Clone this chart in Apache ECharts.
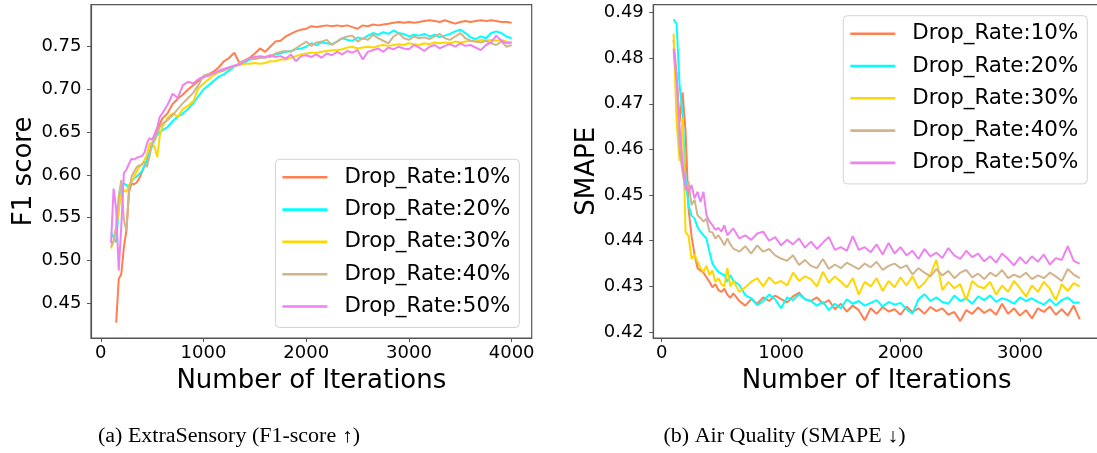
<!DOCTYPE html>
<html>
<head>
<meta charset="utf-8">
<script src="https://cdn.jsdelivr.net/npm/echarts@6/dist/echarts.min.js"></script>
<style>
html,body{margin:0;padding:0;background:#fff;}
#chart{width:1097px;height:453px;}
</style>
</head>
<body>
<div id="chart"></div>
<script>
// ---------- shared ----------
const seriesNames = ['Drop_Rate:10%','Drop_Rate:20%','Drop_Rate:30%','Drop_Rate:40%','Drop_Rate:50%'];
const seriesColors = ['#FF7F50','#00FFFF','#FFD700','#D2B48C','#EE82EE'];
const xAxisTitle = 'Number of Iterations';

// ---------- (a) ExtraSensory ----------
const captionA = '(a) ExtraSensory (F1-score \u2191)';
const yTitleA = 'F1 score';
const xTicksA = [0,1000,2000,3000,4000];
const yTicksA = [0.45,0.50,0.55,0.60,0.65,0.70,0.75];
const itersA = [100,125,150,175,200,225,250,275,300,325,350,375,400,425,450,475,500,525,550,575,600,
 650,700,750,800,850,900,950,1000,1050,1100,1150,1200,1250,1300,1350,1400,1450,1500,1550,1600,1650,1700,1750,1800,1850,1900,1950,2000,
 2050,2100,2150,2200,2250,2300,2350,2400,2450,2500,2550,2600,2650,2700,2750,2800,2850,2900,2950,3000,
 3050,3100,3150,3200,3250,3300,3350,3400,3450,3500,3550,3600,3650,3700,3750,3800,3850,3900,3950,4000];
const f1Drop10 = [null,null,0.427,0.478,0.484,0.515,0.535,0.580,0.590,0.589,0.591,0.596,0.603,0.610,0.617,0.626,0.636,0.643,0.652,0.660,0.666,
 0.672,0.683,0.689,0.694,0.700,0.705,0.710,0.714,0.718,0.721,0.726,0.733,0.737,0.743,0.731,0.734,0.737,0.742,0.748,0.744,0.750,0.756,0.757,0.762,0.765,0.768,0.770,0.771,
 0.774,0.773,0.774,0.775,0.774,0.775,0.774,0.775,0.773,0.771,0.775,0.774,0.776,0.775,0.776,0.777,0.778,0.779,0.778,0.779,
 0.778,0.779,0.780,0.781,0.780,0.779,0.781,0.779,0.777,0.779,0.780,0.779,0.780,0.781,0.780,0.781,0.780,0.779,0.779,0.778];
const f1Drop20 = [0.533,0.527,0.521,0.560,0.586,0.590,0.588,0.584,0.592,0.596,0.598,0.601,0.604,0.611,0.617,0.626,0.634,0.641,0.647,0.650,0.652,
 0.656,0.663,0.668,0.672,0.677,0.684,0.692,0.700,0.705,0.710,0.715,0.718,0.722,0.727,0.729,0.731,0.735,0.736,0.737,0.738,0.738,0.741,0.742,0.744,0.745,0.747,0.748,0.750,
 0.754,0.752,0.755,0.754,0.753,0.756,0.760,0.758,0.757,0.761,0.759,0.763,0.766,0.764,0.767,0.765,0.769,0.766,0.765,0.762,
 0.764,0.763,0.765,0.762,0.764,0.761,0.763,0.765,0.768,0.770,0.766,0.761,0.759,0.762,0.760,0.766,0.768,0.766,0.762,0.760];
const f1Drop30 = [0.514,0.522,0.535,0.560,0.578,0.582,0.580,0.588,0.592,0.598,0.604,0.609,0.612,0.617,0.624,0.636,0.638,0.632,0.621,0.646,0.656,
 0.667,0.672,0.668,0.677,0.681,0.686,0.701,0.707,0.712,0.717,0.720,0.723,0.725,0.727,0.729,0.730,0.730,0.731,0.730,0.731,0.733,0.733,0.735,0.735,0.737,0.739,0.741,0.742,
 0.743,0.743,0.744,0.745,0.746,0.746,0.747,0.749,0.750,0.748,0.749,0.750,0.749,0.751,0.752,0.751,0.752,0.753,0.752,0.754,
 0.753,0.752,0.754,0.753,0.755,0.754,0.755,0.754,0.756,0.755,0.756,0.757,0.756,0.758,0.757,0.758,0.757,0.758,0.756,0.755];
const f1Drop40 = [0.516,0.523,0.540,0.575,0.594,0.547,0.535,0.582,0.598,0.604,0.609,0.611,0.612,0.615,0.609,0.622,0.637,0.641,0.649,0.656,0.660,
 0.664,0.670,0.677,0.684,0.690,0.696,0.705,0.716,0.718,0.719,0.721,0.722,0.725,0.727,0.731,0.734,0.736,0.736,0.737,0.737,0.739,0.742,0.744,0.745,0.744,0.748,0.752,0.756,
 0.751,0.755,0.756,0.758,0.752,0.756,0.760,0.762,0.763,0.756,0.760,0.758,0.764,0.760,0.757,0.754,0.762,0.766,0.760,0.758,
 0.762,0.760,0.761,0.759,0.762,0.765,0.760,0.758,0.762,0.766,0.760,0.757,0.756,0.755,0.757,0.754,0.752,0.756,0.750,0.752];
const f1Drop50 = [0.520,0.584,0.560,0.488,0.540,0.602,0.606,0.613,0.619,0.618,0.620,0.621,0.622,0.626,0.637,0.643,0.641,0.648,0.656,0.668,0.672,
 0.682,0.695,0.690,0.705,0.709,0.707,0.712,0.715,0.716,0.719,0.722,0.724,0.726,0.728,0.729,0.733,0.737,0.738,0.739,0.738,0.740,0.738,0.739,0.736,0.741,0.733,0.739,0.740,
 0.738,0.741,0.737,0.742,0.740,0.744,0.741,0.745,0.743,0.746,0.735,0.744,0.746,0.748,0.744,0.749,0.747,0.750,0.748,0.747,
 0.752,0.749,0.745,0.750,0.752,0.748,0.751,0.753,0.750,0.754,0.751,0.752,0.749,0.746,0.752,0.755,0.763,0.757,0.754,0.755];

// ---------- (b) Air Quality ----------
const captionB = '(b) Air Quality (SMAPE \u2193)';
const yTitleB = 'SMAPE';
const xTicksB = [0,1000,2000,3000];
const yTicksB = [0.42,0.43,0.44,0.45,0.46,0.47,0.48,0.49];
const itersB = [100,125,150,175,200,225,250,275,300,325,350,375,400,425,450,475,500,525,550,575,600,
 650,700,750,800,850,900,950,1000,1050,1100,1150,1200,1250,1300,1350,1400,1450,1500,1550,1600,1650,1700,1750,1800,1850,1900,1950,2000,
 2050,2100,2150,2200,2250,2300,2350,2400,2450,2500,2550,2600,2650,2700,2750,2800,2850,2900,2950,3000,
 3050,3100,3150,3200,3250,3300,3350,3400,3450,3500];
const smapeDrop10 = [0.4840,0.4760,0.4660,0.4725,0.4640,0.4470,0.4410,0.4370,0.4340,0.4335,0.4330,0.4320,0.4310,0.4298,0.4305,0.4292,0.4288,0.4295,0.4282,0.4275,0.4285,
 0.4268,0.4258,0.4272,0.4262,0.4276,0.4268,0.4280,0.4272,0.4265,0.4278,0.4286,0.4272,0.4268,0.4276,0.4262,0.4270,0.4250,0.4262,0.4245,0.4258,0.4248,0.4226,0.4252,0.4240,0.4255,0.4245,0.4250,0.4238,
 0.4256,0.4244,0.4252,0.4240,0.4255,0.4246,0.4252,0.4238,0.4244,0.4224,0.4248,0.4240,0.4254,0.4242,0.4250,0.4238,0.4262,0.4240,0.4252,0.4236,
 0.4248,0.4230,0.4252,0.4244,0.4256,0.4238,0.4250,0.4236,0.4258,0.4228];
const smapeDrop20 = [0.4885,0.4875,0.4740,0.4680,0.4535,0.4478,0.4455,0.4449,0.4430,0.4420,0.4412,0.4405,0.4376,0.4350,0.4340,0.4332,0.4328,0.4325,0.4310,0.4325,0.4312,
 0.4303,0.4281,0.4274,0.4259,0.4268,0.4282,0.4272,0.4252,0.4276,0.4270,0.4283,0.4272,0.4268,0.4258,0.4266,0.4248,0.4262,0.4252,0.4272,0.4262,0.4268,0.4258,0.4264,0.4270,0.4256,0.4266,0.4260,0.4264,
 0.4250,0.4240,0.4272,0.4283,0.4268,0.4276,0.4266,0.4262,0.4280,0.4268,0.4274,0.4262,0.4278,0.4270,0.4280,0.4266,0.4274,0.4270,0.4262,0.4276,
 0.4268,0.4274,0.4266,0.4260,0.4272,0.4258,0.4270,0.4276,0.4264,0.4265];
const smapeDrop30 = [0.4854,0.4660,0.4575,0.4668,0.4420,0.4410,0.4360,0.4370,0.4354,0.4340,0.4332,0.4345,0.4325,0.4335,0.4310,0.4318,0.4305,0.4300,0.4340,0.4300,0.4312,
 0.4288,0.4298,0.4310,0.4318,0.4300,0.4320,0.4306,0.4312,0.4302,0.4330,0.4312,0.4322,0.4316,0.4300,0.4332,0.4308,0.4322,0.4310,0.4298,0.4318,0.4282,0.4310,0.4300,0.4318,0.4290,0.4312,0.4298,0.4320,
 0.4302,0.4322,0.4296,0.4308,0.4326,0.4358,0.4292,0.4310,0.4296,0.4305,0.4270,0.4312,0.4300,0.4296,0.4310,0.4282,0.4302,0.4288,0.4312,0.4296,
 0.4278,0.4302,0.4288,0.4310,0.4295,0.4270,0.4305,0.4290,0.4307,0.4300];
const smapeDrop40 = [0.4814,0.4750,0.4600,0.4550,0.4510,0.4530,0.4478,0.4490,0.4456,0.4450,0.4442,0.4448,0.4420,0.4418,0.4405,0.4412,0.4402,0.4390,0.4405,0.4392,0.4383,
 0.4376,0.4388,0.4372,0.4390,0.4376,0.4382,0.4368,0.4361,0.4356,0.4368,0.4347,0.4358,0.4345,0.4340,0.4360,0.4338,0.4348,0.4340,0.4352,0.4345,0.4338,0.4350,0.4342,0.4354,0.4336,0.4345,0.4350,0.4340,
 0.4346,0.4326,0.4340,0.4330,0.4322,0.4338,0.4324,0.4334,0.4318,0.4330,0.4336,0.4320,0.4328,0.4316,0.4330,0.4322,0.4336,0.4318,0.4326,0.4320,
 0.4330,0.4316,0.4324,0.4318,0.4330,0.4322,0.4312,0.4338,0.4326,0.4318];
const smapeDrop50 = [0.4821,0.4760,0.4650,0.4566,0.4520,0.4507,0.4522,0.4493,0.4507,0.4485,0.4507,0.4456,0.4442,0.4434,0.4424,0.4428,0.4420,0.4434,0.4412,0.4420,0.4427,
 0.4405,0.4412,0.4402,0.4416,0.4420,0.4400,0.4408,0.4390,0.4402,0.4392,0.4405,0.4385,0.4398,0.4382,0.4396,0.4408,0.4380,0.4386,0.4378,0.4410,0.4380,0.4386,0.4375,0.4392,0.4370,0.4395,0.4372,0.4386,
 0.4368,0.4378,0.4360,0.4382,0.4366,0.4374,0.4362,0.4384,0.4368,0.4360,0.4378,0.4364,0.4372,0.4355,0.4366,0.4352,0.4372,0.4360,0.4346,0.4364,
 0.4350,0.4366,0.4354,0.4370,0.4348,0.4362,0.4358,0.4388,0.4356,0.4350];

const f1Values = [f1Drop10,f1Drop20,f1Drop30,f1Drop40,f1Drop50];
const smapeValues = [smapeDrop10,smapeDrop20,smapeDrop30,smapeDrop40,smapeDrop50];

// ---------- build ----------
const FONT = 'DejaVu Sans';
const frameColor = '#555';
function pairs(xs, ys){ return xs.map((x,i)=>[x, ys[i]]); }

function makeX(idx, min, max, ticks){
  return {
    type:'value', gridIndex:idx, min:min, max:max, position:'bottom',
    name:xAxisTitle, nameLocation:'middle', nameGap:30,
    nameTextStyle:{fontFamily:FONT,fontSize:26,color:'#000'},
    axisLine:{show:true,onZero:false,lineStyle:{color:frameColor,width:1.2}},
    axisTick:{show:true,inside:false,length:4,customValues:ticks,lineStyle:{color:frameColor,width:1}},
    axisLabel:{show:true,customValues:ticks,margin:6,fontFamily:FONT,fontSize:18,color:'#000',formatter:v=>String(v)},
    splitLine:{show:false}
  };
}
function makeY(idx, min, max, ticks, title, digits){
  return {
    type:'value', gridIndex:idx, min:min, max:max, position:'left',
    name:title, nameLocation:'middle', nameGap:53, nameRotate:90,
    nameTextStyle:{fontFamily:FONT,fontSize:26,color:'#000'},
    axisLine:{show:true,onZero:false,lineStyle:{color:frameColor,width:1.2}},
    axisTick:{show:true,inside:false,length:4,customValues:ticks,lineStyle:{color:frameColor,width:1}},
    axisLabel:{show:true,customValues:ticks,margin:9.5,fontFamily:FONT,fontSize:18,color:'#000',formatter:v=>Number(v).toFixed(digits)},
    splitLine:{show:false}
  };
}
function makeLegend(left, top){
  return {
    orient:'vertical', left:left, top:top,
    data:seriesNames,
    icon:'rect', itemWidth:45, itemHeight:2.6, itemGap:8.3,
    padding:[6,9,9,7],
    backgroundColor:'rgba(255,255,255,0.85)',
    borderColor:'#d3d3d3', borderWidth:1, borderRadius:4,
    textStyle:{fontFamily:FONT,fontSize:21.4,color:'#000',lineHeight:24,padding:[0,0,0,12]},
    selectedMode:false
  };
}

const series = [];
seriesNames.forEach((n,i)=>{
  series.push({name:n,type:'line',xAxisIndex:0,yAxisIndex:0,data:pairs(itersA,f1Values[i]),
    showSymbol:false,symbol:'none',connectNulls:false,color:seriesColors[i],
    lineStyle:{color:seriesColors[i],width:2},z:2+i});
});
seriesNames.forEach((n,i)=>{
  series.push({name:n,type:'line',xAxisIndex:1,yAxisIndex:1,data:pairs(itersB,smapeValues[i]),
    showSymbol:false,symbol:'none',color:seriesColors[i],
    lineStyle:{color:seriesColors[i],width:2},z:2+i});
});

const option = {
  animation:false,
  backgroundColor:'#fff',
  grid:[
    {left:91,top:4.7,width:440.7,height:333.3,show:true,borderColor:frameColor,borderWidth:1.2,backgroundColor:'transparent',containLabel:false,outerBoundsMode:'none'},
    {left:653.3,top:4.7,width:446.7,height:333.3,show:true,borderColor:frameColor,borderWidth:1.2,backgroundColor:'transparent',containLabel:false,outerBoundsMode:'none'}
  ],
  xAxis:[ makeX(0,-95,4195,xTicksA), makeX(1,-70,3670,xTicksB) ],
  yAxis:[ makeY(0,0.409,0.7992,yTicksA,yTitleA,2), makeY(1,0.4187,0.4917,yTicksB,yTitleB,2) ],
  legend:[ makeLegend(275.4,159.3), makeLegend(843.3,15.7) ],
  series:series,
  graphic:[
    {type:'text',x:229,y:437,scaleX:1.1,style:{text:captionA,fontFamily:'Liberation Serif',fontSize:20,fill:'#000',align:'center',verticalAlign:'middle'}},
    {type:'text',x:784.5,y:437,scaleX:1.1,style:{text:captionB,fontFamily:'Liberation Serif',fontSize:20,fill:'#000',align:'center',verticalAlign:'middle'}}
  ]
};

const chart = echarts.init(document.getElementById('chart'), null, {renderer:'canvas', width:1097, height:453});
chart.setOption(option);
</script>
</body>
</html>
